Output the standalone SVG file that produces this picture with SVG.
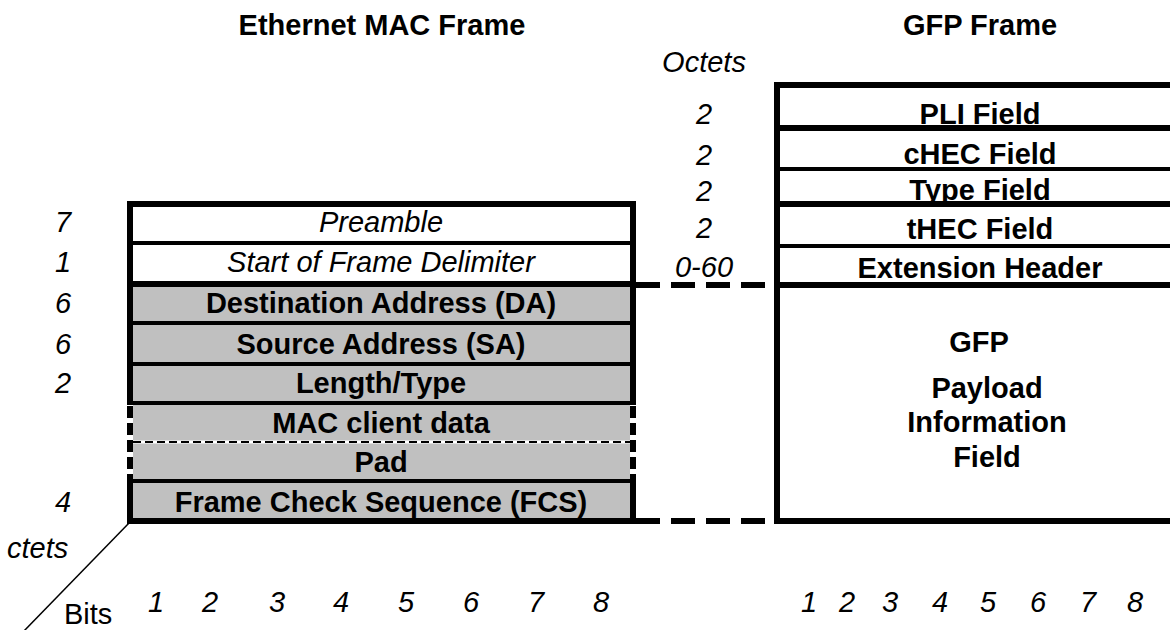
<svg xmlns="http://www.w3.org/2000/svg" width="1170" height="630" viewBox="0 0 1170 630">
<style>
text{font-family:"Liberation Sans",Arial,sans-serif;font-size:29px;fill:#000}
.b{font-weight:bold}
.i{font-style:italic}
.m{text-anchor:middle}
.k{stroke:#000;fill:none}
.t6{stroke-width:6}
.t4{stroke-width:4}
.dv{stroke-dasharray:12 5}
.gray{fill:#c0c0c0}
</style>
<rect width="1170" height="630" fill="#fff"/>
<text class="b m" x="382" y="35">Ethernet MAC Frame</text>
<text class="b m" x="980" y="35">GFP Frame</text>
<text class="i m" x="704" y="72">Octets</text>

<g id="eth-frame">
<rect class="gray" x="133" y="284" width="497" height="237"/>
<line class="k t6" x1="130" y1="201" x2="130" y2="405"/>
<line class="k t6 dv" x1="130" y1="406" x2="130" y2="480"/>
<line class="k t6" x1="130" y1="479" x2="130" y2="524"/>
<line class="k t6" x1="633" y1="201" x2="633" y2="405"/>
<line class="k t6 dv" x1="633" y1="406" x2="633" y2="480"/>
<line class="k t6" x1="633" y1="479" x2="633" y2="524"/>
</g>
<g id="preamble">
<line class="k t6" x1="127" y1="204" x2="636" y2="204"/>
<text class="i m" x="63" y="232">7</text>
<text class="i m" x="381" y="232">Preamble</text>
</g>
<g id="sfd">
<line class="k t4" x1="127" y1="243" x2="636" y2="243"/>
<text class="i m" x="63" y="272">1</text>
<text class="i m" x="381" y="272">Start of Frame Delimiter</text>
</g>
<g id="da">
<line class="k t6" x1="127" y1="284" x2="636" y2="284"/>
<text class="i m" x="63" y="313">6</text>
<text class="b m" x="381" y="313">Destination Address (DA)</text>
</g>
<g id="sa">
<line class="k t4" x1="127" y1="323" x2="636" y2="323"/>
<text class="i m" x="63" y="354">6</text>
<text class="b m" x="381" y="354">Source Address (SA)</text>
</g>
<g id="lentype">
<line class="k t4" x1="127" y1="364" x2="636" y2="364"/>
<text class="i m" x="63" y="393">2</text>
<text class="b m" x="381" y="393">Length/Type</text>
</g>
<g id="macdata">
<line class="k t4" x1="127" y1="403" x2="636" y2="403"/>
<text class="b m" x="381" y="433">MAC client data</text>
</g>
<g id="pad">
<line x1="133" y1="442" x2="630" y2="442" stroke="#fff" stroke-width="3"/>
<line class="k" x1="133" y1="442" x2="630" y2="442" stroke-width="2" stroke-dasharray="8 4"/>
<text class="b m" x="381" y="472">Pad</text>
</g>
<g id="fcs">
<line class="k t4" x1="127" y1="481" x2="636" y2="481"/>
<line class="k t6" x1="127" y1="521" x2="636" y2="521"/>
<text class="i m" x="63" y="512">4</text>
<text class="b m" x="381" y="512">Frame Check Sequence (FCS)</text>
</g>

<g id="gfp-frame">
<line class="k t6" x1="777" y1="82" x2="777" y2="524"/>
</g>
<g id="pli">
<line class="k t6" x1="774" y1="85" x2="1170" y2="85"/>
<text class="i m" x="704" y="124">2</text>
<text class="b m" x="980" y="124">PLI Field</text>
</g>
<g id="chec">
<line class="k t6" x1="774" y1="128" x2="1170" y2="128"/>
<text class="i m" x="704" y="165">2</text>
<text class="b m" x="980" y="164">cHEC Field</text>
</g>
<g id="type">
<line class="k t4" x1="774" y1="169" x2="1170" y2="169"/>
<text class="i m" x="704" y="201">2</text>
<text class="b m" x="980" y="200">Type Field</text>
</g>
<g id="thec">
<line class="k t6" x1="774" y1="204" x2="1170" y2="204"/>
<text class="i m" x="704" y="238">2</text>
<text class="b m" x="980" y="239">tHEC Field</text>
</g>
<g id="ext">
<line class="k t4" x1="774" y1="246" x2="1170" y2="246"/>
<text class="i m" x="704" y="277">0-60</text>
<text class="b m" x="980" y="278">Extension Header</text>
</g>
<g id="payload">
<line class="k t6" x1="774" y1="285" x2="1170" y2="285"/>
<line class="k t6" x1="774" y1="521" x2="1170" y2="521"/>
<text class="b m" x="979" y="352">GFP</text>
<text class="b m" x="987" y="398">Payload</text>
<text class="b m" x="987" y="432">Information</text>
<text class="b m" x="987" y="467">Field</text>
</g>

<g id="connectors">
<line class="k t6" x1="636" y1="285" x2="765" y2="285" stroke-dasharray="24 11"/>
<line class="k t6" x1="636" y1="521" x2="765" y2="521" stroke-dasharray="24 11"/>
<line class="k" stroke-width="1.5" x1="130" y1="522" x2="23" y2="632"/>
</g>

<g id="axis">
<text class="i" x="7" y="558">ctets</text>
<text x="64" y="624">Bits</text>
<text class="i m" x="156" y="612">1</text>
<text class="i m" x="210" y="612">2</text>
<text class="i m" x="277" y="612">3</text>
<text class="i m" x="341" y="612">4</text>
<text class="i m" x="406" y="612">5</text>
<text class="i m" x="471" y="612">6</text>
<text class="i m" x="536" y="612">7</text>
<text class="i m" x="601" y="612">8</text>
<text class="i m" x="809" y="612">1</text>
<text class="i m" x="847" y="612">2</text>
<text class="i m" x="890" y="612">3</text>
<text class="i m" x="940" y="612">4</text>
<text class="i m" x="988" y="612">5</text>
<text class="i m" x="1038" y="612">6</text>
<text class="i m" x="1088" y="612">7</text>
<text class="i m" x="1135" y="612">8</text>
</g>
</svg>
